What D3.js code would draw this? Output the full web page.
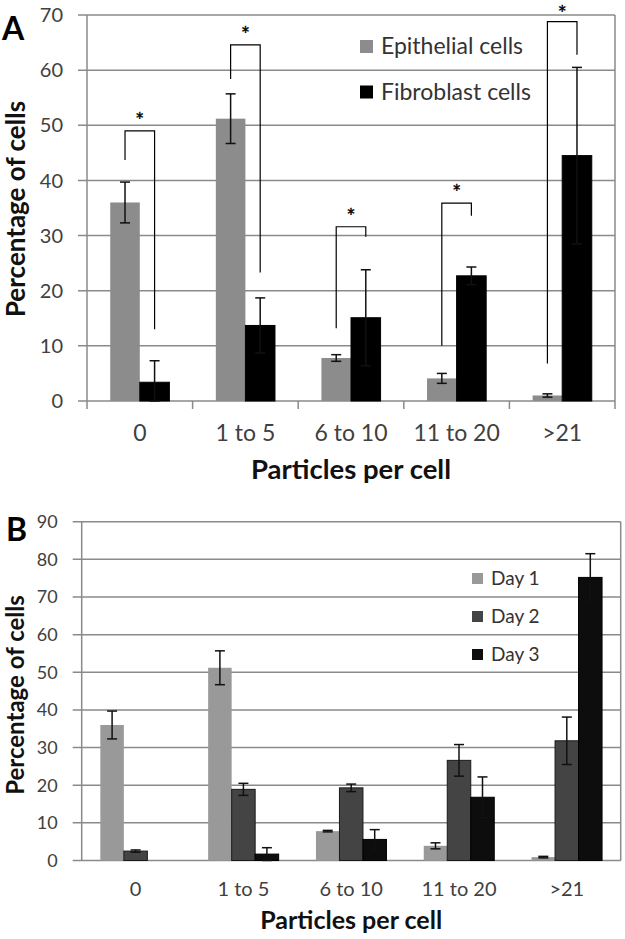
<!DOCTYPE html>
<html>
<head>
<meta charset="utf-8">
<script src="https://cdn.jsdelivr.net/npm/d3@7"></script>
<style>
  html, body { margin: 0; padding: 0; background: #fff; }
  svg { display: block; }
  text { font-family: Lato, "Open Sans", sans-serif; }
</style>
</head>
<body>
<svg id="chart" width="625" height="939"></svg>
<script>
// ---------- data ----------
const categories = ["0", "1 to 5", "6 to 10", "11 to 20", ">21"];

// Panel A
const seriesA = ["Epithelial cells", "Fibroblast cells"];
const epithelial = [36.0, 51.2, 7.8, 4.1, 1.0];
const epithelialErr = [3.7, 4.5, 0.6, 0.9, 0.3];
const fibroblast = [3.4, 13.7, 15.1, 22.7, 44.5];
const fibroblastErr = [3.9, 5.0, 8.7, 1.6, 16.0];
// significance brackets (values in % units)
const bracketLeft = [43.7, 58.4, 13.2, 10.0, 6.8];
const bracketTop = [49.0, 64.6, 31.6, 35.9, 68.8];
const bracketRight = [13.0, 23.3, 29.8, 33.6, 62.8];
const yTicksA = [0, 10, 20, 30, 40, 50, 60, 70];

// Panel B
const seriesB = ["Day 1", "Day 2", "Day 3"];
const day1 = [36.0, 51.2, 7.8, 3.9, 0.9];
const day1Err = [3.7, 4.5, 0.2, 0.8, 0.2];
const day2 = [2.5, 18.9, 19.3, 26.6, 31.8];
const day2Err = [0.3, 1.6, 1.0, 4.2, 6.3];
const day3 = [0, 1.7, 5.6, 16.8, 75.2];
const day3Err = [0, 1.7, 2.6, 5.4, 6.3];
const yTicksB = [0, 10, 20, 30, 40, 50, 60, 70, 80, 90];

const axisTitleX = "Particles per cell";
const axisTitleY = "Percentage of cells";

// ---------- drawing ----------
const svg = d3.select("#chart");
const gridColor = "#8a8a8a";
const tickTextColor = "#404040";

function drawPanel(cfg) {
  const g = svg.append("g");
  const x = d3.scaleBand().domain(categories).range([cfg.left, cfg.right])
    .paddingInner(cfg.padIn).paddingOuter(cfg.padIn / 2);
  const xs = d3.scaleBand().domain(cfg.series).range([0, x.bandwidth()]).padding(0);
  const y = d3.scaleLinear().domain([0, cfg.yMax]).range([cfg.bottom, cfg.top]);

  // gridlines + left tick marks
  g.selectAll("line.grid").data(cfg.yTicks).enter().append("line")
    .attr("x1", cfg.left - 9).attr("x2", cfg.right)
    .attr("y1", d => y(d)).attr("y2", d => y(d))
    .attr("stroke", gridColor).attr("stroke-width", 1.5);
  // left axis + right border
  g.append("line").attr("x1", cfg.left).attr("x2", cfg.left)
    .attr("y1", cfg.top).attr("y2", cfg.bottom + (cfg.xTicks ? 8 : 0))
    .attr("stroke", gridColor).attr("stroke-width", 1.5);
  g.append("line").attr("x1", cfg.right).attr("x2", cfg.right)
    .attr("y1", cfg.top).attr("y2", cfg.bottom + (cfg.xTicks ? 8 : 0))
    .attr("stroke", gridColor).attr("stroke-width", 1.5);
  if (cfg.xTicks) {
    const step = x.step();
    const bounds = d3.range(1, categories.length).map(i => cfg.left + i * step);
    g.selectAll("line.xt").data(bounds).enter().append("line")
      .attr("x1", d => d).attr("x2", d => d)
      .attr("y1", cfg.bottom).attr("y2", cfg.bottom + 8)
      .attr("stroke", gridColor).attr("stroke-width", 1.5);
  }

  // y tick labels
  g.selectAll("text.yt").data(cfg.yTicks).enter().append("text")
    .attr("x", cfg.left - 24).attr("y", d => y(d)).attr("dy", "0.36em")
    .attr("text-anchor", "end").attr("fill", tickTextColor)
    .attr("font-size", cfg.tickFont).text(d => d);
  // x tick labels
  g.selectAll("text.xl").data(categories).enter().append("text")
    .attr("x", d => x(d) + x.bandwidth() / 2).attr("y", cfg.xLabelY)
    .attr("text-anchor", "middle").attr("fill", tickTextColor)
    .attr("font-size", cfg.xTickFont).text(d => d);

  // bars
  cfg.series.forEach((s, si) => {
    const vals = cfg.values[si], errs = cfg.errors[si];
    const gs = g.append("g");
    gs.selectAll("rect").data(categories).enter().append("rect")
      .attr("x", (c) => x(c) + xs(s))
      .attr("width", xs.bandwidth())
      .attr("y", (c, i) => y(vals[i]))
      .attr("height", (c, i) => cfg.bottom - y(vals[i]))
      .attr("fill", cfg.colors[si])
      .attr("stroke", cfg.strokes[si]).attr("stroke-width", 1);
    // error bars
    categories.forEach((c, i) => {
      if (!errs[i]) return;
      const cx = x(c) + xs(s) + xs.bandwidth() / 2;
      const y1 = y(vals[i] + errs[i]), y2 = y(Math.max(0, vals[i] - errs[i]));
      const eg = gs.append("g").attr("stroke", "#111").attr("stroke-width", 1.5);
      eg.append("line").attr("x1", cx).attr("x2", cx).attr("y1", y1).attr("y2", y2);
      eg.append("line").attr("x1", cx - 5).attr("x2", cx + 5).attr("y1", y1).attr("y2", y1);
      eg.append("line").attr("x1", cx - 5).attr("x2", cx + 5).attr("y1", y2).attr("y2", y2);
    });
  });

  // legend
  cfg.series.forEach((s, si) => {
    const ly = cfg.legendY + si * cfg.legendStep;
    g.append("rect").attr("x", cfg.legendX).attr("y", ly - cfg.legendBox)
      .attr("width", cfg.legendBox).attr("height", cfg.legendBox)
      .attr("fill", cfg.colors[si]);
    g.append("text").attr("x", cfg.legendX + cfg.legendBox + 8).attr("y", ly + 1)
      .attr("font-size", cfg.legendFont).attr("fill", "#333").text(s);
  });

  // axis titles
  g.append("text").attr("x", (cfg.left + cfg.right) / 2).attr("y", cfg.xTitleY)
    .attr("text-anchor", "middle").attr("font-weight", "bold")
    .attr("font-size", cfg.titleFont).attr("fill", "#111").text(axisTitleX);
  g.append("text")
    .attr("transform", `translate(${cfg.yTitleX},${cfg.yTitleCY}) rotate(-90)`)
    .attr("text-anchor", "middle").attr("font-weight", "bold")
    .attr("font-size", cfg.yTitleFont).attr("fill", "#111").text(axisTitleY);

  // panel letter
  svg.append("text").attr("x", cfg.letterX).attr("y", cfg.letterY)
    .attr("font-family", "'DejaVu Sans', sans-serif")
    .attr("font-weight", "bold").attr("font-size", 32).attr("fill", "#000")
    .text(cfg.letter);

  return { x, xs, y, g };
}

// Panel A
const A = drawPanel({
  left: 87, right: 615, top: 15, bottom: 401, yMax: 70, yTicks: yTicksA,
  padIn: 0.44, series: seriesA,
  values: [epithelial, fibroblast], errors: [epithelialErr, fibroblastErr],
  colors: ["#8c8c8c", "#000000"], strokes: ["none", "#000"],
  xTicks: true, tickFont: 20, xTickFont: 23, xLabelY: 441,
  legendX: 360, legendY: 53, legendStep: 45.5, legendBox: 13, legendFont: 23,
  titleFont: 27.5, xTitleY: 479, yTitleX: 25, yTitleCY: 209, yTitleFont: 26,
  letter: "A", letterX: 2, letterY: 40
});

// significance brackets for panel A
const starLayer = A.g.append("g").attr("opacity", 0.99);
categories.forEach((c, i) => {
  const xl = A.x(c) + A.xs(seriesA[0]) + A.xs.bandwidth() / 2;
  const xr = A.x(c) + A.xs(seriesA[1]) + A.xs.bandwidth() / 2;
  A.g.append("path")
    .attr("d", `M${xl},${A.y(bracketLeft[i])}V${A.y(bracketTop[i])}H${xr}V${A.y(bracketRight[i])}`)
    .attr("fill", "none").attr("stroke", "#000").attr("stroke-width", 1.2);
  starLayer.append("text").attr("x", (xl + xr) / 2)
    .attr("y", Math.max(21, A.y(bracketTop[i]) - 3))
    .attr("text-anchor", "middle").attr("font-family", "'DejaVu Sans', sans-serif")
    .attr("font-size", 21).attr("fill", "#000")
    .attr("stroke", "#000").attr("stroke-width", 0.4).text("*");
});

// Panel B
drawPanel({
  left: 81.7, right: 620.7, top: 521.7, bottom: 860.5, yMax: 90, yTicks: yTicksB,
  padIn: 0.346, series: seriesB,
  values: [day1, day2, day3], errors: [day1Err, day2Err, day3Err],
  colors: ["#999999", "#444444", "#0d0d0d"], strokes: ["none", "#1a1a1a", "#000"],
  xTicks: false, tickFont: 18, xTickFont: 20, xLabelY: 896,
  legendX: 472, legendY: 584, legendStep: 38, legendBox: 11, legendFont: 19,
  titleFont: 25, xTitleY: 929, yTitleX: 24, yTitleCY: 695, yTitleFont: 24,
  letter: "B", letterX: 6, letterY: 541
});
</script>
</body>
</html>
